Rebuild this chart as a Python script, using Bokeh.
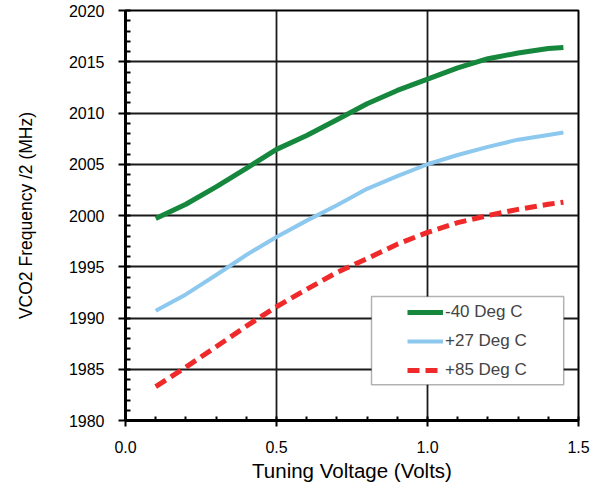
from bokeh.plotting import figure
from bokeh.models import (Range1d, SingleIntervalTicker, NumeralTickFormatter,
                          Legend, LegendItem, BoxAnnotation)
from bokeh.embed import file_html
from bokeh.resources import INLINE

# ---- data ----
voltage = [0.1, 0.2, 0.3, 0.4, 0.5, 0.6, 0.7, 0.8, 0.9, 1.0, 1.1, 1.2, 1.3, 1.4, 1.45]
freq_m40 = [1999.7, 2001.1, 2002.8, 2004.6, 2006.45, 2007.8, 2009.35, 2010.9, 2012.2,
            2013.3, 2014.4, 2015.3, 2015.85, 2016.3, 2016.4]
freq_p27 = [1990.7, 1992.3, 1994.2, 1996.15, 1997.9, 1999.5, 2001.0, 2002.6, 2003.85,
            2005.0, 2005.9, 2006.7, 2007.4, 2007.85, 2008.1]
freq_p85 = [1983.3, 1985.2, 1987.2, 1989.2, 1991.1, 1992.8, 1994.45, 1995.8, 1997.2,
            1998.35, 1999.3, 2000.0, 2000.6, 2001.1, 2001.3]
series_labels = ["-40 Deg C", "+27 Deg C", "+85 Deg C"]
x_title = "Tuning Voltage (Volts)"
y_title = "VCO2 Frequency /2 (MHz)"

FONT = "Liberation Sans"

p = figure(width=600, height=488, output_backend="svg", toolbar_location=None,
           x_range=Range1d(0, 1.5), y_range=Range1d(1980, 2020),
           min_border_left=125, min_border_right=22, min_border_top=10,
           min_border_bottom=68)

p.background_fill_color = "white"
p.border_fill_color = "white"
p.outline_line_color = "black"
p.outline_line_width = 2

# axes
p.xaxis.ticker = SingleIntervalTicker(interval=0.5, num_minor_ticks=5)
p.yaxis.ticker = SingleIntervalTicker(interval=5, num_minor_ticks=5)
p.xaxis.formatter = NumeralTickFormatter(format="0.0")

for ax in (p.xaxis, p.yaxis):
    ax.axis_line_color = "black"
    ax.axis_line_width = 3
    ax.major_tick_line_color = "black"
    ax.major_tick_line_width = 2
    ax.minor_tick_line_color = "black"
    ax.minor_tick_line_width = 2
    ax.major_tick_in = 0
    ax.minor_tick_out = 0
    ax.major_label_text_font = FONT
    ax.major_label_text_font_size = "16px"
    ax.major_label_text_color = "black"
    ax.axis_label_text_font = FONT
    ax.axis_label_text_font_style = "normal"
    ax.axis_label_text_color = "black"
    ax.major_label_standoff = 14

p.yaxis.major_tick_out = 7
p.yaxis.minor_tick_in = 5
p.xaxis.major_tick_out = 6
p.xaxis.minor_tick_in = 4

p.xaxis.axis_label = x_title
p.xaxis.axis_label_text_font_size = "20.5px"
p.xaxis.axis_label_standoff = 3
p.yaxis.axis_label = y_title
p.yaxis.axis_label_text_font_size = "17.5px"
p.yaxis.axis_label_standoff = 30

# grid
for g in (p.xgrid, p.ygrid):
    g.grid_line_color = "#1a1a1a"
    g.grid_line_width = 1.8

# series
r1 = p.line(voltage, freq_m40, line_color="#15883D", line_width=5, line_join="round")
r2 = p.line(voltage, freq_p27, line_color="#8DC8EE", line_width=4, line_join="round")
r3 = p.line(voltage, freq_p85, line_color="#F02A2A", line_width=5,
            line_dash="12 6", line_join="round")

# legend box
box = BoxAnnotation(left=0.8146, right=1.451, bottom=1983.5, top=1992.1,
                    fill_color="white", fill_alpha=1.0,
                    line_color="black", line_width=1.5)
p.add_layout(box)

legend = Legend(items=[LegendItem(label=series_labels[0], renderers=[r1]),
                       LegendItem(label=series_labels[1], renderers=[r2]),
                       LegendItem(label=series_labels[2], renderers=[r3])],
                location=(282, 40), padding=0, margin=0, spacing=9,
                glyph_width=36, glyph_height=20, label_height=20,
                label_standoff=2,
                label_text_font=FONT, label_text_font_size="17px",
                border_line_alpha=0, background_fill_alpha=0)
p.add_layout(legend, "center")

open("out.html", "w").write(file_html(p, INLINE))
